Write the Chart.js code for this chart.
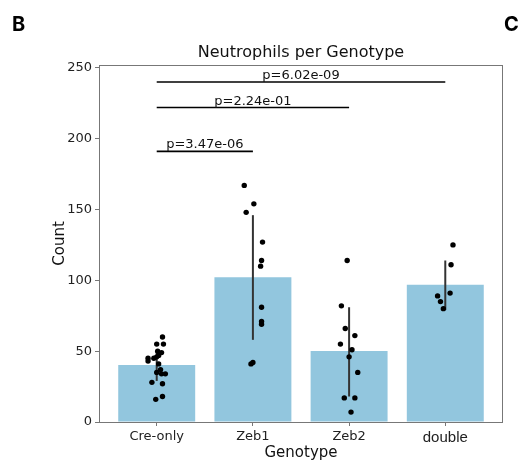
<!DOCTYPE html>
<html>
<head>
<meta charset="utf-8">
<script src="https://cdn.jsdelivr.net/npm/chart.js@4"></script>
<style>
  html, body { margin: 0; padding: 0; background: #fff; }
  #wrap { width: 528px; height: 466px; position: relative; }
</style>
</head>
<body>
<div id="wrap"><canvas id="chart"></canvas></div>
<script>
// data
const genotypes = ["Cre-only", "Zeb1", "Zeb2", "double"];
const meanCounts = [40.3, 102.2, 50.1, 96.8];
const ciLow = [29, 58, 18, 79];
const ciHigh = [49, 146, 81, 114];

const creOnlyCounts = [60, 55, 55, 50, 49, 47, 46, 45, 43, 45, 41, 37, 35, 34, 34, 28, 27, 18, 16];
const creOnlyJitter = [0.06, 0, 0.07, 0.01, 0.05, 0.02, 0, -0.09, -0.09, -0.03, 0.02, 0.04, 0, 0.05, 0.09, -0.05, 0.06, 0.06, -0.01];
const zeb1Counts = [167, 154, 148, 127, 114, 110, 81, 71, 69, 42, 41];
const zeb1Jitter = [-0.09, 0.01, -0.07, 0.1, 0.09, 0.08, 0.09, 0.09, 0.09, 0, -0.02];
const zeb2Counts = [114, 82, 66, 61, 55, 51, 46, 35, 17, 17, 7];
const zeb2Jitter = [-0.02, -0.08, -0.04, 0.06, -0.09, 0.03, 0, 0.09, -0.05, 0.06, 0.02];
const doubleCounts = [125, 111, 91, 89, 85, 80];
const doubleJitter = [0.08, 0.06, 0.05, -0.08, -0.05, -0.02];

const sigPairs = [[0, 1], [0, 2], [0, 3]];
const sigHeights = [191, 222, 240];
const sigLabels = ["p=3.47e-06", "p=2.24e-01", "p=6.02e-09"];

const yTicks = [0, 50, 100, 150, 200, 250];

const barColor = "#92c6de";
const errColor = "#333333";

const groups = [
  [creOnlyCounts, creOnlyJitter],
  [zeb1Counts, zeb1Jitter],
  [zeb2Counts, zeb2Jitter],
  [doubleCounts, doubleJitter],
];

const datasets = [];

datasets.push({
  type: "bar",
  data: meanCounts.map((v, i) => ({ x: i, y: v })),
  backgroundColor: barColor,
  borderWidth: 0,
  categoryPercentage: 1,
  barPercentage: 0.8,
  order: 4,
});

// error bars
genotypes.forEach((g, i) => {
  datasets.push({
    type: "line",
    data: [{ x: i, y: ciLow[i] }, { x: i, y: ciHigh[i] }],
    borderColor: errColor,
    borderWidth: 2,
    pointRadius: 0,
    order: 3,
  });
});

// strip points
groups.forEach(([counts, jitter], i) => {
  datasets.push({
    type: "scatter",
    data: counts.map((v, k) => ({ x: i + jitter[k], y: v })),
    backgroundColor: "#000",
    borderWidth: 0,
    pointRadius: 2.7,
    order: 2,
  });
});

// significance lines
sigPairs.forEach(([a, b], i) => {
  datasets.push({
    type: "line",
    data: [{ x: a, y: sigHeights[i] }, { x: b, y: sigHeights[i] }],
    borderColor: "#000",
    borderWidth: 1.6,
    pointRadius: 0,
    order: 1,
  });
});

const extras = {
  id: "extras",
  afterDraw(chart) {
    const ctx = chart.ctx;
    const { left, right, top, bottom } = chart.chartArea;
    const xs = chart.scales.x, ys = chart.scales.y;
    ctx.save();
    // frame
    ctx.strokeStyle = "#777";
    ctx.lineWidth = 1;
    ctx.strokeRect(left + 0.5, top + 0.5, right - left - 1, bottom - top);

    // p-value labels
    ctx.fillStyle = "#111";
    ctx.font = "13px 'DejaVu Sans'";
    ctx.textAlign = "center";
    ctx.textBaseline = "alphabetic";
    sigPairs.forEach(([a, b], i) => {
      const x = xs.getPixelForValue((a + b) / 2);
      const y = ys.getPixelForValue(sigHeights[i]);
      ctx.fillText(sigLabels[i], x, y - 3);
    });

    // title
    ctx.font = "16px 'DejaVu Sans'";
    ctx.textBaseline = "middle";
    ctx.fillText("Neutrophils per Genotype", (left + right) / 2, 53);

    // panel letters
    ctx.fillStyle = "#000";
    ctx.font = "bold 20px Inter";
    ctx.textAlign = "left";
    ctx.fillText("B", 12, 25);
    ctx.fillText("C", 504, 25);
    ctx.restore();
  },
};

new Chart(document.getElementById("chart"), {
  type: "bar",
  data: { datasets },
  plugins: [extras],
  options: {
    responsive: true,
    maintainAspectRatio: false,
    animation: false,
    layout: { padding: { left: 0, right: 25, top: 65, bottom: 0 } },
    plugins: {
      legend: { display: false },
      tooltip: { enabled: false },
    },
    scales: {
      x: {
        type: "linear",
        min: -0.6,
        max: 3.6,
        offset: false,
        afterBuildTicks: (axis) => {
          axis.ticks = genotypes.map((g, i) => ({ value: i }));
        },
        afterFit: (scale) => { scale.height = 44; },
        ticks: {
          callback: (v) => genotypes[v],
          color: "#222",
          padding: 3,
          maxRotation: 0,
          font: (c) => c.index === 3
            ? { family: "'Liberation Sans'", size: 15 }
            : { family: "'DejaVu Sans'", size: 13 },
        },
        grid: { display: true, offset: false, drawOnChartArea: false, drawTicks: true, tickLength: 4, color: "#777" },
        border: { display: false },
        title: {
          display: true,
          text: "Genotype",
          color: "#111",
          font: { family: "'DejaVu Sans'", size: 15 },
          padding: { top: 0, bottom: 4 },
        },
      },
      y: {
        min: 0,
        max: 252,
        afterBuildTicks: (axis) => {
          axis.ticks = yTicks.map((v) => ({ value: v }));
        },
        afterFit: (scale) => { scale.width = 99; },
        ticks: {
          color: "#222",
          padding: 3,
          font: { family: "'DejaVu Sans'", size: 13 },
        },
        grid: { display: true, drawOnChartArea: false, drawTicks: true, tickLength: 4, color: "#777" },
        border: { display: false },
        title: {
          display: true,
          text: "Count",
          color: "#111",
          font: { family: "'DejaVu Sans'", size: 15 },
          padding: { top: 51, bottom: 0 },
        },
      },
    },
  },
});
</script>
</body>
</html>
